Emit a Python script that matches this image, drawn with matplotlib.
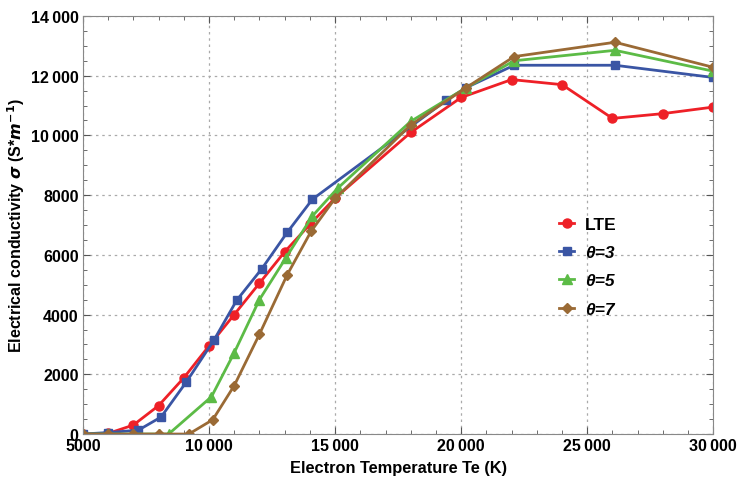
import numpy as np
import matplotlib.pyplot as plt
from matplotlib.ticker import MultipleLocator, FuncFormatter

plt.rcParams['font.family'] = ['Liberation Sans', 'DejaVu Sans']
plt.rcParams['font.weight'] = 'bold'
plt.rcParams['mathtext.fontset'] = 'dejavusans'

# data
te_lte = [5000, 6000, 7000, 8000, 9000, 10000, 11000, 12000, 13000, 14000, 15000,
          18000, 20000, 22000, 24000, 26000, 28000, 30000]
sig_lte = [0, 20, 300, 950, 1880, 2950, 4000, 5050, 6100, 7020, 7900,
           10100, 11270, 11870, 11700, 10570, 10730, 10950]

te_t3 = [5000, 6000, 7200, 8100, 9100, 10200, 11100, 12100, 13100, 14100,
         19400, 20200, 22100, 26100, 30000]
sig_t3 = [0, 50, 130, 570, 1740, 3150, 4480, 5540, 6750, 7860,
          11170, 11600, 12350, 12350, 11940]

te_t5 = [5000, 6000, 7000, 8000, 8400, 10100, 11000, 12000, 13050, 14100, 15100,
         18000, 20200, 22100, 26100, 30000]
sig_t5 = [0, 0, 0, 0, 0, 1250, 2720, 4500, 5900, 7300, 8230,
          10470, 11600, 12500, 12850, 12150]

te_t7 = [5000, 6000, 7000, 8000, 9200, 10150, 11000, 12000, 13100, 14050, 15000,
         18000, 20200, 22100, 26100, 30000]
sig_t7 = [0, 0, 0, 0, 0, 480, 1620, 3340, 5330, 6790, 7890,
          10350, 11600, 12640, 13120, 12280]

labels = ['LTE', '\u03b8=3', '\u03b8=5', '\u03b8=7']

fig = plt.figure(figsize=(7.4, 4.85), dpi=100)
ax = fig.add_axes([0.112, 0.103, 0.852, 0.862])

ax.plot(te_lte, sig_lte, color='#ee2027', marker='o', ms=6.5, lw=2, label=labels[0])
ax.plot(te_t3, sig_t3, color='#3a55a4', marker='s', ms=5.5, lw=2, label=labels[1])
ax.plot(te_t5, sig_t5, color='#5cbb46', marker='^', ms=7, lw=2, label=labels[2])
ax.plot(te_t7, sig_t7, color='#9a6a35', marker='D', ms=5, lw=2, label=labels[3])

ax.set_xlim(5000, 30000)
ax.set_ylim(0, 14000)
ax.xaxis.set_major_locator(MultipleLocator(5000))
ax.xaxis.set_minor_locator(MultipleLocator(1000))
ax.yaxis.set_major_locator(MultipleLocator(2000))
ax.yaxis.set_minor_locator(MultipleLocator(500))

def fmt(v, pos):
    v = int(round(v))
    if v >= 10000:
        return '{}\u2009{:03d}'.format(v // 1000, v % 1000)
    return str(v)

ax.xaxis.set_major_formatter(FuncFormatter(fmt))
ax.yaxis.set_major_formatter(FuncFormatter(fmt))
ax.tick_params(which='both', direction='in', colors='#555555', labelcolor='black',
               labelsize=11.5, top=True, right=True, pad=3)
ax.tick_params(which='major', length=5)
ax.tick_params(which='minor', length=3)
for lbl in ax.get_xticklabels() + ax.get_yticklabels():
    lbl.set_fontweight('bold')
for s in ax.spines.values():
    s.set_color('#888888')
ax.grid(True, which='major', color='#aaaaaa', linestyle=(0, (2, 3)), lw=0.9)

ax.set_xlabel('Electron Temperature Te (K)', fontsize=11.8, fontweight='bold', labelpad=5)
ax.set_ylabel(r'Electrical conductivity $\sigma$ (S*$m^{-1}$)', fontsize=11.5,
              fontweight='bold', labelpad=3)

leg = ax.legend(loc='center left', bbox_to_anchor=(0.73, 0.40), frameon=False, fontsize=12.5,
                handlelength=0.9, handletextpad=0.6, labelspacing=0.75)
for t in leg.get_texts()[1:]:
    t.set_fontstyle('italic')

fig.savefig('out.png', dpi=100)
